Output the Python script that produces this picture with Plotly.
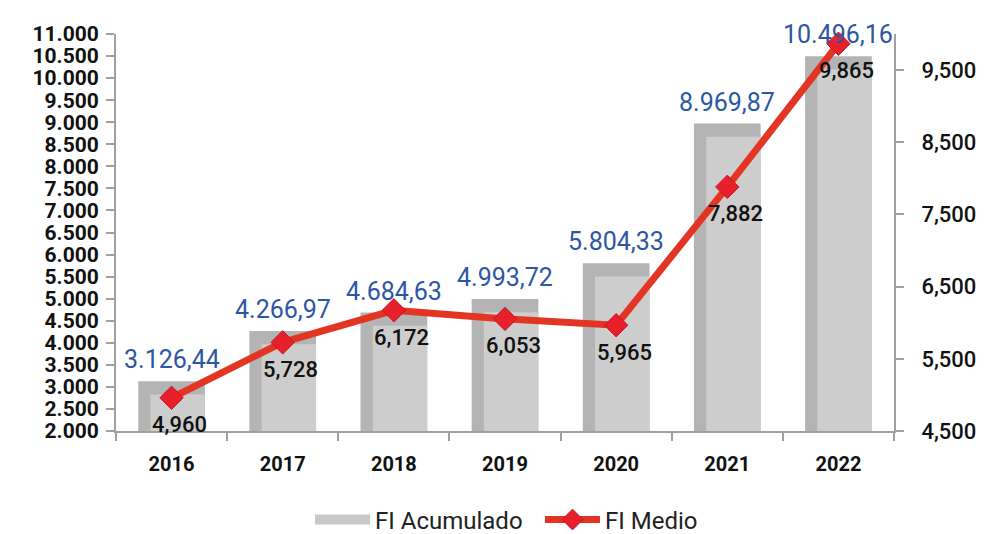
import plotly.graph_objects as go

years = ["2016", "2017", "2018", "2019", "2020", "2021", "2022"]
fi_acumulado = [3126.44, 4266.97, 4684.63, 4993.72, 5804.33, 8969.87, 10496.16]
fi_medio = [4960, 5728, 6172, 6053, 5965, 7882, 9865]
acum_labels = ["3.126,44", "4.266,97", "4.684,63", "4.993,72", "5.804,33", "8.969,87", "10.496,16"]
medio_labels = ["4,960", "5,728", "6,172", "6,053", "5,965", "7,882", "9,865"]
left_ticks = list(range(2000, 11001, 500))
left_ticktext = [f"{v:,}".replace(",", ".") for v in left_ticks]
right_ticks = [4500, 5500, 6500, 7500, 8500, 9500]
right_ticktext = [f"{v:,}" for v in right_ticks]

FONT = "Roboto"
bevel = 300  # depth of the top shading strip, in data units

fig = go.Figure()
# outer (darker) bar = shading
fig.add_trace(go.Bar(
    x=years, y=fi_acumulado, name="FI Acumulado", width=0.6,
    marker=dict(color="#b4b4b4", line=dict(width=0)),
    showlegend=False,
))
# inner (lighter) face
fig.add_trace(go.Bar(
    x=years, y=[v - bevel for v in fi_acumulado], width=0.49, offset=-0.19,
    marker=dict(color="#cdcdcd", line=dict(width=0)),
    showlegend=False, hoverinfo="skip",
))
# legend-only swatch for the bars
fig.add_trace(go.Scatter(
    x=[None], y=[None], name="FI Acumulado", mode="lines",
    line=dict(color="#c8c8c8", width=10), legendrank=1, hoverinfo="skip",
))
fig.add_trace(go.Scatter(
    x=years, y=fi_medio, name="FI Medio", yaxis="y2", mode="lines+markers",
    line=dict(color="#e33524", width=7),
    marker=dict(symbol="diamond", size=18, color="#e8202c",
                line=dict(color="#c4161f", width=1)),
    cliponaxis=False, legendrank=2,
))

for i, (v, t) in enumerate(zip(fi_acumulado, acum_labels)):
    fig.add_annotation(x=i, y=v, xref="x", yref="y", text=t, showarrow=False,
                       yanchor="bottom", yshift=5,
                       font=dict(color="#2b57a3", size=25, family=FONT))

for i, (v, t) in enumerate(zip(fi_medio, medio_labels)):
    fig.add_annotation(x=i, y=v, xref="x", yref="y2", text=t, showarrow=False,
                       yshift=-27, xshift=8,
                       font=dict(color="#111111", size=22, family=FONT, weight=500))

fig.update_layout(
    width=998, height=534,
    margin=dict(l=108, r=112, t=26, b=111, autoexpand=False),
    paper_bgcolor="white", plot_bgcolor="white",
    barmode="overlay", bargap=0.4,
    font=dict(family=FONT, color="#111111"),
    legend=dict(orientation="h", x=0.545, xanchor="center", y=-0.224, yanchor="middle",
                font=dict(size=24, color="#222222", family=FONT),
                itemwidth=55, entrywidth=160, traceorder="normal"),
    xaxis=dict(
        type="category", range=[-0.5, len(years) - 0.5], autorange=False,
        showgrid=False, showline=True, linecolor="#a0a0a0",
        linewidth=2, ticks="outside", tickson="boundaries", ticklen=8,
        tickcolor="#a0a0a0", tickwidth=2, tickangle=0, ticklabelstandoff=14,
        tickfont=dict(size=20, family=FONT, color="#111111", weight="bold"),
    ),
    yaxis=dict(
        range=[2000, 11000], tickvals=left_ticks, ticktext=left_ticktext,
        showgrid=False, showline=True, linecolor="#a0a0a0", linewidth=2,
        ticks="outside", ticklen=8, tickcolor="#a0a0a0", tickwidth=2,
        ticklabelstandoff=3,
        tickfont=dict(size=21, family=FONT, color="#111111", weight="bold"),
        zeroline=False,
    ),
    yaxis2=dict(
        range=[4500, 10000], tickvals=right_ticks, ticktext=right_ticktext,
        overlaying="y", side="right", showgrid=False, showline=True,
        linecolor="#a0a0a0", linewidth=2, ticks="outside", ticklen=8,
        tickcolor="#a0a0a0", tickwidth=2, ticklabelstandoff=13,
        tickfont=dict(size=22, family=FONT, color="#111111", weight=500),
        zeroline=False,
    ),
)

fig.write_html("out.html")
